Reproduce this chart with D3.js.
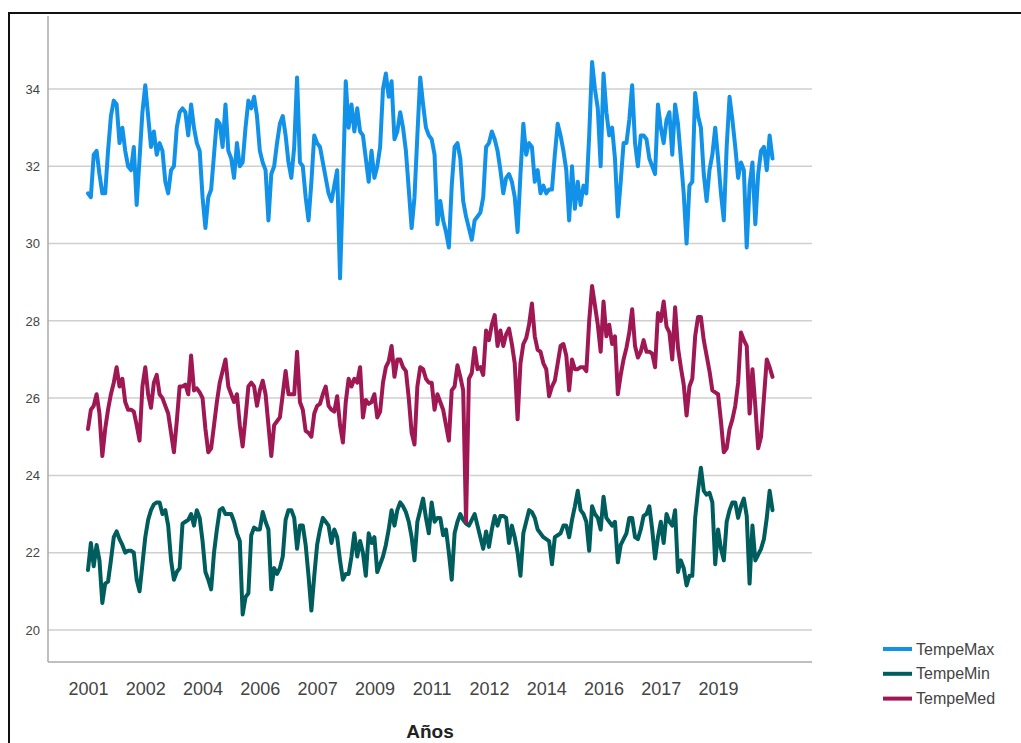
<!DOCTYPE html>
<html>
<head>
<meta charset="utf-8">
<script src="https://cdn.jsdelivr.net/npm/d3@7"></script>
<style>
  body { margin: 0; background: #fff; }
  svg { display: block; }
</style>
</head>
<body>
<svg id="chart" width="1021" height="743"></svg>
<script>
// Monthly series, January 2001 to December 2020
const firstYear = 2001;
const monthCount = 240;
const months = d3.range(monthCount).map(i =>
  `${firstYear + Math.floor(i / 12)}-${String(i % 12 + 1).padStart(2, "0")}`);

const tempeMax = [
  31.3,31.2,32.3,32.4,31.8,31.3,31.3,32.4,33.3,33.7,33.6,32.6,
  33.0,32.4,32.0,31.9,32.5,31.0,32.2,33.4,34.1,33.3,32.5,32.9,
  32.3,32.6,32.4,31.6,31.3,31.9,32.0,33.0,33.4,33.5,33.4,32.8,
  33.6,33.0,32.6,32.4,31.2,30.4,31.2,31.4,32.3,33.2,33.1,32.5,
  33.6,32.4,32.2,31.7,32.6,32.0,32.1,33.0,33.7,33.5,33.8,33.3,
  32.4,32.1,31.9,30.6,31.8,32.0,32.6,33.1,33.3,32.8,32.1,31.7,
  32.5,34.3,32.1,32.0,31.2,30.6,31.6,32.8,32.6,32.5,32.1,31.7,
  31.3,31.1,31.5,31.9,29.1,31.5,34.2,33.0,33.6,32.9,33.5,32.9,
  32.8,32.2,31.6,32.4,31.7,32.0,32.5,34.0,34.4,33.8,34.2,32.7,
  32.9,33.4,33.0,32.4,31.4,30.4,31.2,32.8,34.3,33.6,33.0,32.8,
  32.7,32.3,30.5,31.1,30.6,30.3,29.9,31.5,32.5,32.6,32.2,31.1,
  30.7,30.4,30.1,30.6,30.7,30.8,31.2,32.5,32.6,32.9,32.7,32.4,
  31.9,31.3,31.7,31.8,31.6,31.2,30.3,31.8,33.1,32.3,32.6,32.5,
  31.6,31.9,31.3,31.5,31.3,31.4,31.4,32.3,33.1,32.8,32.4,31.9,
  30.6,32.0,30.9,31.6,31.0,31.5,31.3,32.8,34.7,34.0,33.5,32.0,
  34.4,33.4,32.8,33.0,32.2,30.7,31.6,32.6,32.6,33.2,34.1,32.6,
  32.0,32.8,32.8,32.7,32.2,32.0,31.8,33.6,33.0,32.6,33.2,33.4,
  32.3,33.6,33.1,32.2,31.3,30.0,31.5,31.6,33.9,33.3,33.0,31.8,
  31.1,31.9,32.3,33.0,32.2,31.3,30.6,32.5,33.8,33.2,32.5,31.7,
  32.1,31.9,29.9,31.5,32.1,30.5,31.8,32.4,32.5,31.9,32.8,32.2
];

const tempeMin = [
  21.55,22.25,21.65,22.2,21.8,20.7,21.2,21.25,21.8,22.4,22.55,22.35,
  22.2,22.0,22.05,22.05,22.0,21.3,21.0,21.7,22.4,22.85,23.1,23.25,
  23.3,23.3,23.0,23.1,22.7,21.8,21.3,21.5,21.6,22.75,22.8,22.85,
  23.0,22.7,23.1,22.9,22.3,21.5,21.3,21.05,22.0,22.6,23.1,23.15,
  23.0,23.0,23.0,22.8,22.5,22.3,20.4,20.85,20.95,22.45,22.65,22.6,
  22.6,23.05,22.8,22.6,21.05,21.6,21.45,21.6,21.9,22.85,23.1,23.1,
  22.9,22.1,22.7,22.7,22.2,21.4,20.5,21.4,22.2,22.6,22.9,22.8,
  22.7,22.25,22.6,22.4,21.8,21.3,21.45,21.45,21.9,22.5,21.9,22.3,
  22.0,21.4,22.5,22.25,22.4,21.5,21.7,21.9,22.2,22.6,23.1,22.7,
  23.1,23.3,23.2,23.05,22.8,22.4,21.8,22.8,23.1,23.4,22.9,22.5,
  23.3,22.8,22.9,22.9,22.45,22.6,22.0,21.3,22.5,22.8,23.0,22.85,
  22.75,22.7,22.85,23.0,22.7,22.4,22.1,22.55,22.15,22.6,22.95,22.7,
  22.95,22.95,22.9,22.25,22.7,22.4,22.0,21.4,22.5,22.8,23.1,23.05,
  22.9,22.6,22.5,22.4,22.35,22.3,21.7,22.4,22.45,22.5,22.7,22.7,
  22.4,22.85,23.2,23.6,23.1,23.0,22.8,22.05,23.2,23.0,22.9,22.6,
  23.45,22.9,22.8,22.7,22.8,21.75,22.2,22.35,22.5,22.9,22.9,22.4,
  22.35,22.6,22.95,23.0,23.2,22.6,21.85,22.4,22.8,22.25,23.0,22.8,
  22.7,23.1,21.5,21.8,21.6,21.15,21.4,21.4,22.9,23.6,24.2,23.6,
  23.5,23.55,23.3,21.7,22.6,22.1,21.8,22.8,23.1,23.3,23.3,22.9,
  23.2,23.4,22.95,21.2,22.7,21.8,21.95,22.1,22.35,22.9,23.6,23.1
];

const tempeMed = [
  25.2,25.7,25.8,26.1,25.6,24.5,25.2,25.7,26.1,26.4,26.8,26.3,
  26.5,25.9,25.7,25.7,25.65,25.3,24.9,26.3,26.8,26.1,25.75,26.4,
  26.6,26.1,26.0,25.8,25.6,25.1,24.6,25.4,26.3,26.3,26.35,26.1,
  27.1,26.2,26.25,26.15,26.0,25.2,24.6,24.7,25.3,25.9,26.4,26.7,
  27.0,26.3,26.1,25.9,26.1,25.3,24.75,25.5,26.3,26.4,26.3,25.8,
  26.2,26.45,26.1,25.3,24.5,25.3,25.4,25.5,26.1,26.7,26.1,26.1,
  26.1,27.2,25.9,25.7,25.15,25.1,25.0,25.6,25.8,25.85,26.1,26.3,
  25.8,25.7,25.65,26.05,25.3,24.85,25.9,26.5,26.3,26.5,26.4,26.8,
  25.5,25.95,25.85,25.9,26.1,25.5,25.65,26.4,26.8,26.95,27.35,26.55,
  27.0,27.0,26.8,26.7,26.0,25.1,24.8,26.3,26.8,26.75,26.5,26.4,
  26.4,25.7,26.1,25.9,25.7,25.3,24.9,26.2,26.3,26.85,26.55,26.2,
  22.8,26.5,26.65,27.3,26.75,26.8,26.6,27.75,27.5,27.9,28.15,27.35,
  27.75,27.35,27.65,27.8,27.4,26.9,25.45,26.9,27.4,27.55,27.9,28.45,
  27.6,27.25,27.2,26.9,26.75,26.05,26.3,26.45,26.9,27.35,27.4,27.1,
  26.2,27.0,26.75,26.75,26.8,26.8,26.7,28.0,28.9,28.4,27.9,27.2,
  28.5,27.6,27.9,27.4,27.6,26.1,26.6,27.0,27.3,27.7,28.3,27.35,
  27.05,27.2,27.5,27.2,27.2,27.15,26.8,28.2,28.0,28.5,27.85,27.7,
  27.0,28.35,27.3,26.8,26.35,25.55,26.3,26.5,27.6,28.1,28.1,27.5,
  27.1,26.7,26.2,26.15,26.1,25.4,24.6,24.7,25.2,25.45,25.8,26.4,
  27.7,27.5,27.35,25.6,26.75,25.8,24.7,25.0,26.0,27.0,26.8,26.55
];

const seriesNames = ["TempeMax", "TempeMin", "TempeMed"];
const seriesColors = ["#1192e8", "#005d5d", "#9f1853"];
const seriesValues = [tempeMax, tempeMin, tempeMed];

const yTicks = [20, 22, 24, 26, 28, 30, 32, 34];
const xTickStep = 20;
const xTickLabels = ["2001", "2002", "2004", "2006", "2007", "2009",
                     "2011", "2012", "2014", "2016", "2017", "2019"];
const xTitle = "Años";

const svg = d3.select("#chart");

// outer frame
svg.append("rect")
  .attr("x", 9).attr("y", 13)
  .attr("width", 1040).attr("height", 760)
  .attr("fill", "none").attr("stroke", "#111").attr("stroke-width", 2);

const plot = { left: 48, right: 812, top: 16, bottom: 662 };

const x = d3.scalePoint()
  .domain(months)
  .range([88, 772.5]);

const y = d3.scaleLinear()
  .domain([19.17, 35.89])
  .range([plot.bottom, plot.top]);

// horizontal gridlines
svg.append("g")
  .selectAll("line")
  .data(yTicks)
  .join("line")
  .attr("x1", plot.left).attr("x2", plot.right)
  .attr("y1", d => y(d)).attr("y2", d => y(d))
  .attr("stroke", "#cfcfcf").attr("stroke-width", 1.5);

// y axis labels
const yAxis = d3.axisLeft(y).tickValues(yTicks).tickSize(0).tickPadding(8);
const gy = svg.append("g").attr("transform", `translate(${plot.left},0)`).call(yAxis);
gy.select(".domain").remove();
gy.selectAll("text")
  .attr("font-family", "'Liberation Sans', Arial, sans-serif")
  .attr("font-size", 13).attr("fill", "#444");

// x axis labels
const xTickMonths = months.filter((m, i) => i % xTickStep === 0);
const xAxis = d3.axisBottom(x)
  .tickValues(xTickMonths)
  .tickSize(0).tickPadding(20)
  .tickFormat((m, i) => xTickLabels[i]);
const gx = svg.append("g").attr("transform", `translate(0,${plot.bottom})`).call(xAxis);
gx.select(".domain").remove();
gx.selectAll("text")
  .attr("font-family", "'Liberation Sans', Arial, sans-serif")
  .attr("font-size", 18).attr("fill", "#444");

// axis lines
svg.append("line")
  .attr("x1", plot.left).attr("x2", plot.left)
  .attr("y1", plot.top).attr("y2", plot.bottom)
  .attr("stroke", "#aaa").attr("stroke-width", 1.5);
svg.append("line")
  .attr("x1", plot.left).attr("x2", plot.right)
  .attr("y1", plot.bottom).attr("y2", plot.bottom)
  .attr("stroke", "#aaa").attr("stroke-width", 1.5);

// series lines
const line = d3.line()
  .x((d, i) => x(months[i]))
  .y(d => y(d));

svg.append("g")
  .selectAll("path")
  .data(seriesValues)
  .join("path")
  .attr("d", d => line(d))
  .attr("fill", "none")
  .attr("stroke", (d, i) => seriesColors[i])
  .attr("stroke-width", 4)
  .attr("stroke-linejoin", "round")
  .attr("stroke-linecap", "round");

// axis title
svg.append("text")
  .attr("x", 430).attr("y", 738)
  .attr("text-anchor", "middle")
  .attr("font-family", "'Liberation Sans', Arial, sans-serif")
  .attr("font-weight", "bold").attr("font-size", 19).attr("fill", "#222")
  .text(xTitle);

// legend
const legend = svg.append("g").attr("transform", "translate(883,649)");
const items = legend.selectAll("g")
  .data(seriesNames)
  .join("g")
  .attr("transform", (d, i) => `translate(0,${i * 24.8})`);
items.append("line")
  .attr("x1", 0).attr("x2", 29)
  .attr("stroke", (d, i) => seriesColors[i])
  .attr("stroke-width", 4);
items.append("text")
  .attr("x", 33).attr("dy", "0.35em")
  .attr("font-family", "'Liberation Sans', Arial, sans-serif")
  .attr("font-size", 16).attr("fill", "#444")
  .text(d => d);
</script>
</body>
</html>
